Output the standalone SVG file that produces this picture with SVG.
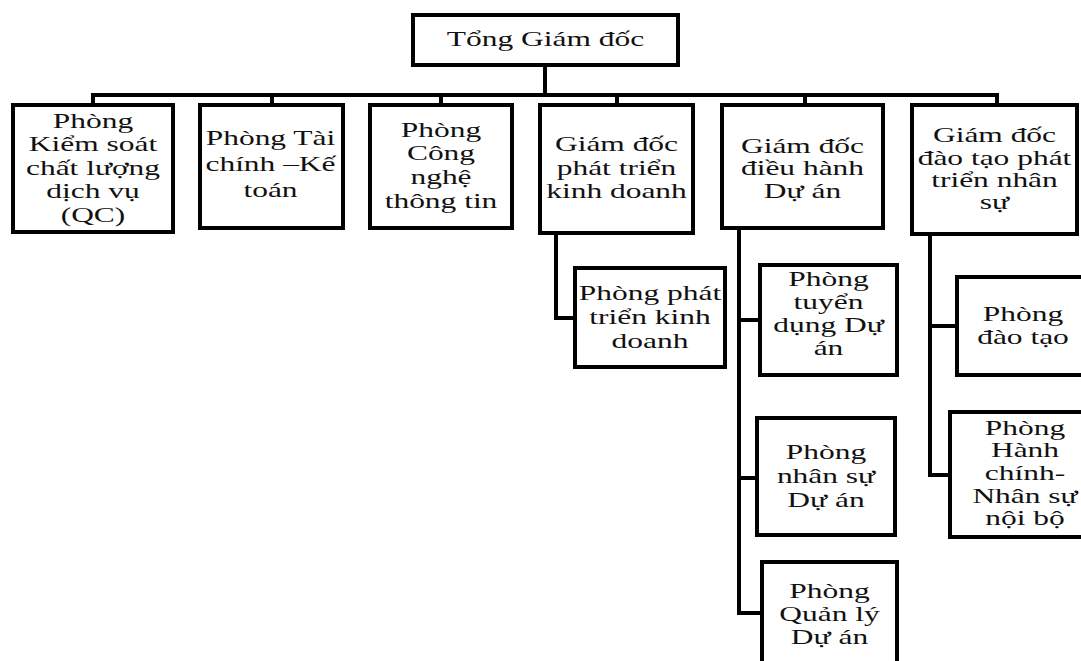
<svg xmlns="http://www.w3.org/2000/svg" width="1081" height="661" viewBox="0 0 1081 661">
<style>
.box{fill:#fff;stroke:#000;stroke-width:4}
.ln{fill:none;stroke:#000;stroke-width:4;stroke-linejoin:miter}
text{font-family:"Liberation Serif","Times New Roman",serif;font-size:22px;fill:#111;text-anchor:middle}
</style>
<rect width="1081" height="661" fill="#fff"/>
<g id="connectors">
<path class="ln" d="M545 65V95M93 105V95H997V105M272 95V105M441 95V105M617 95V105M805 95V105"/>
<path class="ln" d="M556 233V318H575"/>
<path class="ln" d="M739 228V613H762M739 320H760M739 478H757"/>
<path class="ln" d="M930 234V475H950M930 326H957"/>
</g>
<g id="n0"><rect class="box" x="413" y="15" width="265" height="50"/>
<text transform="translate(545.5 0) scale(1.43 1)"><tspan x="0" y="46">Tổng Giám đốc</tspan></text></g>
<g id="n1"><rect class="box" x="13" y="105" width="160" height="127"/>
<text transform="translate(93 0) scale(1.43 1)"><tspan x="0" y="128">Phòng</tspan><tspan x="0" y="151.5">Kiểm soát</tspan><tspan x="0" y="175">chất lượng</tspan><tspan x="0" y="198.5">dịch vụ</tspan><tspan x="0" y="222">(QC)</tspan></text></g>
<g id="n2"><rect class="box" x="200" y="105" width="143" height="123"/>
<text transform="translate(270.5 0) scale(1.43 1)"><tspan x="0" y="145">Phòng Tài</tspan><tspan x="0" y="171">chính –Kế</tspan><tspan x="0" y="197">toán</tspan></text></g>
<g id="n3"><rect class="box" x="370" y="105" width="142" height="123"/>
<text transform="translate(441 0) scale(1.43 1)"><tspan x="0" y="137">Phòng</tspan><tspan x="0" y="160.5">Công</tspan><tspan x="0" y="184">nghệ</tspan><tspan x="0" y="208">thông tin</tspan></text></g>
<g id="n4"><rect class="box" x="540" y="105" width="153" height="128"/>
<text transform="translate(616.5 0) scale(1.43 1)"><tspan x="0" y="151">Giám đốc</tspan><tspan x="0" y="175">phát triển</tspan><tspan x="0" y="198">kinh doanh</tspan></text></g>
<g id="n5"><rect class="box" x="722" y="105" width="161" height="123"/>
<text transform="translate(802.5 0) scale(1.43 1)"><tspan x="0" y="153">Giám đốc</tspan><tspan x="0" y="175.5">điều hành</tspan><tspan x="0" y="198">Dự án</tspan></text></g>
<g id="n6"><rect class="box" x="912" y="105" width="165" height="129"/>
<text transform="translate(994.5 0) scale(1.43 1)"><tspan x="0" y="142">Giám đốc</tspan><tspan x="0" y="165">đào tạo phát</tspan><tspan x="0" y="187">triển nhân</tspan><tspan x="0" y="209">sự</tspan></text></g>
<g id="n7"><rect class="box" x="575" y="268" width="150" height="99"/>
<text transform="translate(650 0) scale(1.43 1)"><tspan x="0" y="300">Phòng phát</tspan><tspan x="0" y="324">triển kinh</tspan><tspan x="0" y="348">doanh</tspan></text></g>
<g id="n8"><rect class="box" x="760" y="265" width="137" height="110"/>
<text transform="translate(828.5 0) scale(1.43 1)"><tspan x="0" y="286">Phòng</tspan><tspan x="0" y="309">tuyển</tspan><tspan x="0" y="332">dụng Dự</tspan><tspan x="0" y="355">án</tspan></text></g>
<g id="n9"><rect class="box" x="757" y="418" width="138" height="117"/>
<text transform="translate(826 0) scale(1.43 1)"><tspan x="0" y="459">Phòng</tspan><tspan x="0" y="483">nhân sự</tspan><tspan x="0" y="507">Dự án</tspan></text></g>
<g id="n10"><rect class="box" x="762" y="562" width="135" height="120"/>
<text transform="translate(829.5 0) scale(1.43 1)"><tspan x="0" y="598">Phòng</tspan><tspan x="0" y="621">Quản lý</tspan><tspan x="0" y="644">Dự án</tspan></text></g>
<g id="n11"><rect class="box" x="957" y="277" width="140" height="98"/>
<text transform="translate(1023 0) scale(1.43 1)"><tspan x="0" y="321">Phòng</tspan><tspan x="0" y="344">đào tạo</tspan></text></g>
<g id="n12"><rect class="box" x="950" y="412" width="150" height="125"/>
<text transform="translate(1025 0) scale(1.43 1)"><tspan x="0" y="435">Phòng</tspan><tspan x="0" y="457.5">Hành</tspan><tspan x="0" y="480">chính-</tspan><tspan x="0" y="503">Nhân sự</tspan><tspan x="0" y="525">nội bộ</tspan></text></g>
</svg>
